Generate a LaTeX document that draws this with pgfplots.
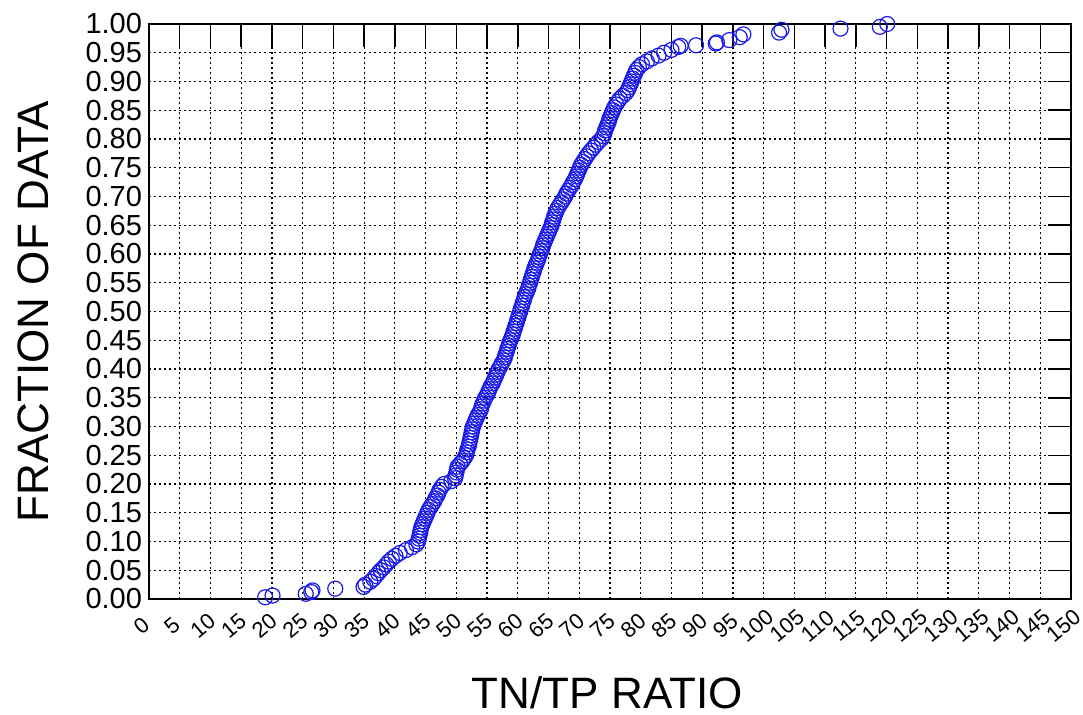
\documentclass[border=0pt]{standalone}
\usepackage{pgfplots}
\pgfplotsset{compat=1.18}
\usepackage{pgfplotstable}
\usepackage{fontspec}
\setmainfont{Liberation Sans}
\definecolor{mk}{RGB}{25,25,235}
\pgfplotstableread{
x y
18.9 0.003
20.1 0.006
25.5 0.009
26.4 0.012
26.6 0.015
30.3 0.018
34.9 0.021
35.2 0.025
36.0 0.030
36.5 0.035
36.9 0.040
37.3 0.045
37.7 0.050
38.2 0.055
38.6 0.060
39.0 0.065
39.5 0.070
40.1 0.075
40.8 0.080
41.8 0.085
42.8 0.090
43.5 0.095
43.8 0.100
43.9 0.105
44.0 0.110
44.1 0.115
44.2 0.120
44.3 0.125
44.5 0.130
44.7 0.135
44.9 0.140
45.1 0.145
45.3 0.150
45.5 0.155
45.8 0.160
46.1 0.165
46.4 0.170
46.6 0.175
46.9 0.180
47.1 0.185
47.3 0.190
47.6 0.195
48.0 0.200
49.2 0.205
49.8 0.210
49.9 0.215
50.0 0.220
50.1 0.225
50.2 0.230
50.6 0.235
51.0 0.240
51.3 0.245
51.6 0.250
51.7 0.255
51.8 0.260
52.0 0.265
52.1 0.270
52.2 0.275
52.3 0.280
52.4 0.285
52.5 0.290
52.6 0.295
52.7 0.300
52.9 0.305
53.1 0.310
53.3 0.315
53.5 0.320
53.8 0.325
54.0 0.330
54.1 0.335
54.3 0.340
54.5 0.345
54.7 0.350
55.0 0.355
55.2 0.360
55.4 0.365
55.6 0.370
55.9 0.375
56.1 0.380
56.3 0.385
56.5 0.390
56.7 0.395
56.9 0.400
57.2 0.405
57.4 0.410
57.7 0.415
57.9 0.420
58.0 0.425
58.2 0.430
58.3 0.435
58.5 0.440
58.6 0.445
58.8 0.450
59.0 0.455
59.2 0.460
59.3 0.465
59.5 0.470
59.6 0.475
59.8 0.480
59.9 0.485
60.1 0.490
60.2 0.495
60.4 0.500
60.5 0.505
60.7 0.510
60.8 0.515
61.0 0.520
61.1 0.525
61.3 0.530
61.5 0.535
61.7 0.540
61.8 0.545
62.0 0.550
62.1 0.555
62.3 0.560
62.4 0.565
62.6 0.570
62.7 0.575
62.9 0.580
63.1 0.585
63.3 0.590
63.4 0.595
63.6 0.600
63.8 0.605
64.0 0.610
64.1 0.615
64.3 0.620
64.5 0.625
64.7 0.630
64.9 0.635
65.1 0.640
65.3 0.645
65.5 0.650
65.6 0.655
65.8 0.660
65.9 0.665
66.1 0.670
66.3 0.675
66.5 0.680
66.8 0.685
67.1 0.690
67.4 0.695
67.7 0.700
67.9 0.705
68.2 0.710
68.5 0.715
68.8 0.720
69.0 0.725
69.3 0.730
69.5 0.735
69.7 0.740
69.9 0.745
70.1 0.750
70.3 0.755
70.6 0.760
70.9 0.765
71.2 0.770
71.5 0.775
71.9 0.780
72.3 0.785
72.7 0.790
73.1 0.795
73.6 0.800
73.9 0.805
74.1 0.810
74.2 0.815
74.4 0.820
74.6 0.825
74.8 0.830
74.9 0.835
75.1 0.840
75.3 0.845
75.5 0.850
75.7 0.855
76.0 0.860
76.3 0.865
76.6 0.870
77.1 0.875
77.6 0.880
77.9 0.885
78.1 0.890
78.3 0.895
78.5 0.900
78.7 0.905
78.9 0.910
79.1 0.915
79.3 0.920
79.7 0.925
80.2 0.930
81.0 0.935
81.8 0.940
82.9 0.945
83.8 0.950
85.0 0.955
86.1 0.960
86.5 0.962
89.0 0.963
92.2 0.966
92.4 0.968
94.4 0.972
96.1 0.977
96.7 0.982
102.5 0.985
102.9 0.990
112.5 0.992
118.9 0.995
120.1 1.000
}\cdf
\begin{document}
\begin{tikzpicture}
\begin{axis}[
  scale only axis,
  width=461bp, height=287.5bp,
  xmin=0, xmax=150, ymin=0, ymax=1,
  xtick={0,5,10,15,20,25,30,35,40,45,50,55,60,65,70,75,80,85,90,95,100,105,110,115,120,125,130,135,140,145,150},
  ytick={0,0.05,0.1,0.15,0.2,0.25,0.3,0.35,0.4,0.45,0.5,0.55,0.6,0.65,0.7,0.75,0.8,0.85,0.9,0.95,1},
  xtick pos=right, ytick pos=right,
  xticklabel pos=left, yticklabel pos=left,
  tick align=inside,
  major tick length=11.5bp,
  tick style={line width=0.75bp, black},
  grid=major,
  major grid style={line width=0.6bp, black, dash pattern=on 1bp off 1.5bp},
  axis line style={line width=1bp, black},
  /pgf/number format/assume math mode=true,
  yticklabel style={font=\fontsize{14.5bp}{16bp}\selectfont, /pgf/number format/fixed, /pgf/number format/fixed zerofill, /pgf/number format/precision=2},
  xticklabel style={font=\fontsize{11bp}{12bp}\selectfont, anchor=center, yshift=-13.5bp, xshift=-3.8bp, rotate=40},
  scaled y ticks=false,
  xlabel={TN/TP RATIO},
  ylabel={FRACTION OF DATA},
  xlabel style={font=\fontsize{22bp}{26bp}\selectfont, at={(axis description cs:0.497,-0.19)}, anchor=base},
  ylabel style={font=\fontsize{22bp}{26bp}\selectfont, at={(axis description cs:-0.1085,0.5)}, anchor=base, rotate=0},
]
\addplot[only marks, mark=o, mark size=3.75bp, color=mk, mark options={line width=0.6bp}] table[x=x,y=y] {\cdf};
\coordinate (bl) at (rel axis cs:0,0);
\coordinate (tr) at (rel axis cs:1,1);
\end{axis}
\pgfresetboundingbox
\path ([shift={(-74.5bp,-58bp)}]bl) rectangle ([shift={(6bp,12bp)}]tr);
\end{tikzpicture}
\end{document}
